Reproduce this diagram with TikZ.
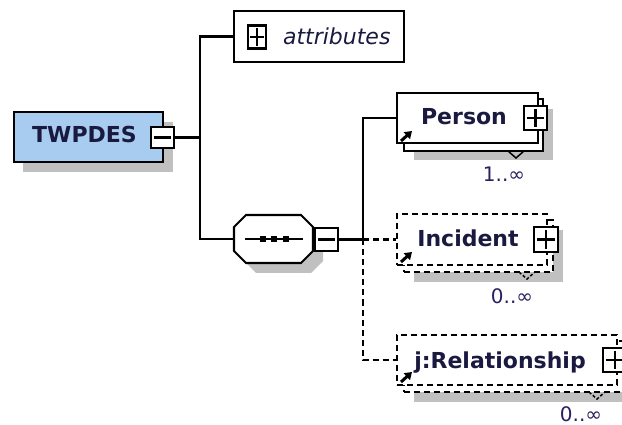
\documentclass[tikz,border=0pt]{standalone}
\usepackage{fontspec}
\setmainfont{DejaVu Sans}
\usetikzlibrary{arrows.meta}
\definecolor{navy}{HTML}{1A1A40}
\definecolor{multc}{HTML}{2A2060}
\definecolor{elblue}{HTML}{A8CCF0}
\definecolor{shadowgray}{HTML}{C0C0C0}
\begin{document}
\begin{tikzpicture}[x=1pt,y=-1pt,line width=2.1pt,
  box/.style={draw=black,fill=white,inner sep=0pt},
  dbox/.style={box,dash pattern=on 6pt off 4pt},
  dline/.style={dash pattern=on 6pt off 4pt},
  shade/.style={fill=shadowgray,draw=none},
  lbl/.style={text=navy,inner sep=0pt,anchor=base,font=\fontsize{22}{24}\selectfont\bfseries},
  mult/.style={text=multc,inner sep=0pt,anchor=base,font=\fontsize{20}{22}\selectfont},
  icon/.style={line width=3pt,-{Triangle[length=7pt,width=9pt]}},
  notch/.style={line width=1.5pt}]
\useasboundingbox (0,0) rectangle (622,425);
\clip (0,0) rectangle (622,425);

% ---------- TWPDES ----------
\fill[shade] (23,122) rectangle (173,172);
\node[box,fill=elblue,minimum width=149pt,minimum height=50pt] (twp) at (88.5,137) {};
\node[lbl] (twptext) at (84.5,143) {TWPDES};
\node[box,minimum width=23pt,minimum height=21pt] (tminus) at (162.5,137.5) {};
\draw ([xshift=4pt]tminus.west) -- ([xshift=-4pt]tminus.east);

% ---------- attributes ----------
\node[box,minimum width=170pt,minimum height=51pt] (attr) at (319,36.5) {};
\node[box,minimum width=18pt,minimum height=23pt] (aplus) at (257,37) {};
\draw ([xshift=3pt]aplus.west) -- ([xshift=-3pt]aplus.east);
\draw ([yshift=-4pt]aplus.north) -- ([yshift=4pt]aplus.south);
\node[lbl,anchor=base west,font=\fontsize{22}{24}\selectfont\itshape] (attrtext) at (282,45) {attributes};

% ---------- sequence compositor ----------
\fill[shade,shift={(10,10)}] (234,227) -- (246,215) -- (301,215) -- (313,227) -- (313,251) -- (301,263) -- (246,263) -- (234,251) -- cycle;
\draw[fill=white] (234,227) -- (246,215) -- (301,215) -- (313,227) -- (313,251) -- (301,263) -- (246,263) -- (234,251) -- cycle;
\node[inner sep=0pt,minimum width=79pt,minimum height=48pt] (seq) at (273.5,239) {};
\draw (245,239) -- (303,239);
\fill (260,236) rectangle (266,242);
\fill (271,236) rectangle (277,242);
\fill (283,236) rectangle (289,242);
\node[box,minimum width=23pt,minimum height=23pt] (sminus) at (326.5,239.5) {};
\draw ([xshift=4pt]sminus.west) -- ([xshift=-4pt]sminus.east);

% ---------- Person ----------
\fill[shade] (414,109) rectangle (553,160);
\node[box,minimum width=139pt,minimum height=52pt] (personback) at (473.5,125) {};
\node[box,minimum width=141pt,minimum height=50pt] (person) at (467.5,118) {};
\node[lbl] (persontext) at (464,125) {Person};
\node[box,minimum width=23pt,minimum height=24pt] (pplus) at (535.5,118) {};
\draw ([xshift=4pt]pplus.west) -- ([xshift=-4pt]pplus.east);
\draw ([yshift=-4pt]pplus.north) -- ([yshift=4pt]pplus.south);
\draw[icon] (401,141) -- (412,131);
\draw[notch] (508,151) -- (516,158) -- (524,151);
\node[mult] (pmult) at (504,182) {1..∞};

% ---------- Incident ----------
\fill[shade] (414,230) rectangle (563,282);
\node[dbox,minimum width=149pt,minimum height=52pt] (incback) at (478.5,246) {};
\node[dbox,minimum width=150pt,minimum height=51pt] (incident) at (472,239.5) {};
\node[lbl] (inctext) at (468,247) {Incident};
\node[box,minimum width=24pt,minimum height=25pt] (iplus) at (546,239.5) {};
\draw ([xshift=4pt]iplus.west) -- ([xshift=-4pt]iplus.east);
\draw ([yshift=-4pt]iplus.north) -- ([yshift=4pt]iplus.south);
\draw[icon] (401,262) -- (412,252);
\draw[notch,dash pattern=on 3pt off 2pt] (519,272) -- (527,279) -- (535,272);
\node[mult] (imult) at (512,304) {0..∞};

% ---------- j:Relationship ----------
\fill[shade] (414,351) rectangle (634,402);
\node[dbox,minimum width=220pt,minimum height=51pt] (relback) at (514,366.5) {};
\node[dbox,minimum width=220pt,minimum height=50pt] (rel) at (507,360) {};
\node[lbl] (reltext) at (500,368) {j:Relationship};
\node[box,minimum width=24pt,minimum height=24pt] (rplus) at (615,360) {};
\draw ([xshift=4pt]rplus.west) -- ([xshift=-4pt]rplus.east);
\draw ([yshift=-4pt]rplus.north) -- ([yshift=4pt]rplus.south);
\draw[icon] (401,382) -- (412,372);
\draw[notch,dash pattern=on 3pt off 2pt] (589,392) -- (597,399) -- (605,392);
\node[mult] (rmult) at (581,421) {0..∞};

% ---------- connectors ----------
\coordinate (bus) at (200,137.5);
\coordinate (junc) at (363,239.5);
\draw (tminus.east) -- (bus);
\draw (bus) |- (attr.west);
\draw (bus) |- (seq.west);
\draw (sminus.east) -- (junc);
\draw (junc) |- (person.west);
\draw[dline] (junc) -- (incident.west);
\draw[dline] (junc) |- (rel.west);
\end{tikzpicture}
\end{document}
